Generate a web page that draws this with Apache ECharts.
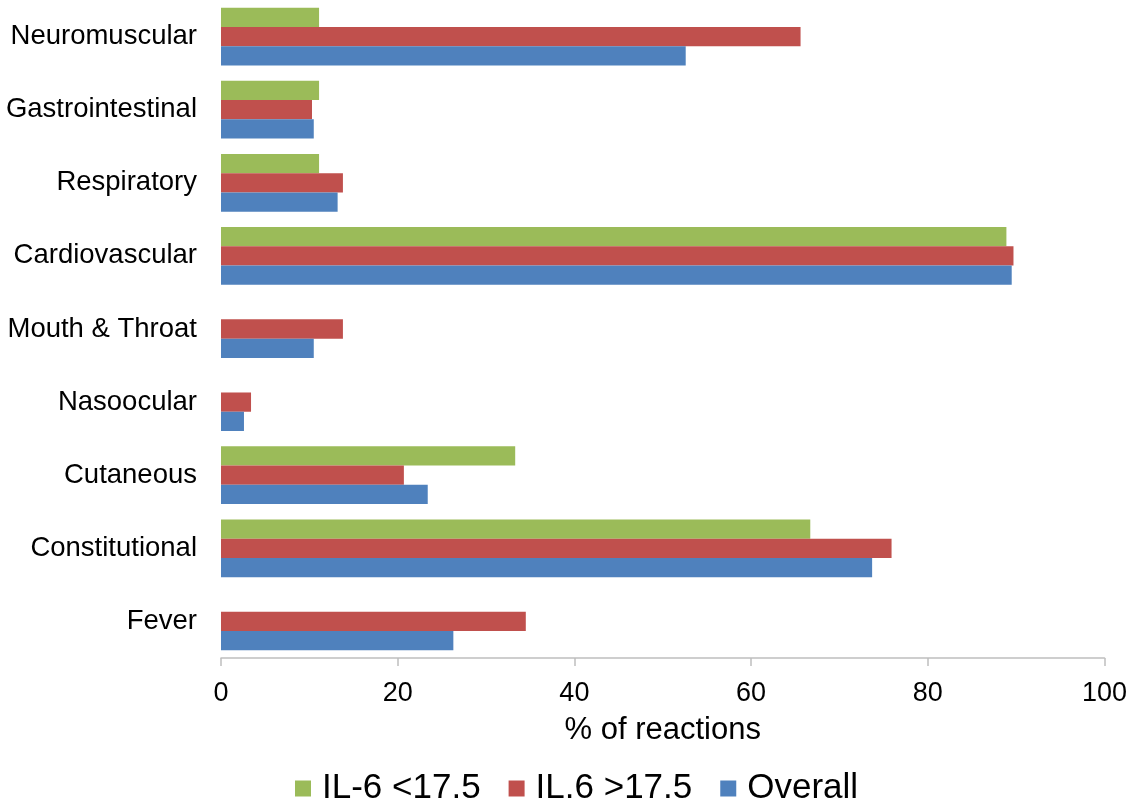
<!DOCTYPE html>
<html>
<head>
<meta charset="utf-8">
<script src="https://cdn.jsdelivr.net/npm/echarts@6/dist/echarts.min.js"></script>
<style>
html,body{margin:0;padding:0;background:#fff;}
#chart{width:1130px;height:810px;}
</style>
</head>
<body>
<div id="chart"></div>
<script>
// categories listed top to bottom
var categories = ["Neuromuscular","Gastrointestinal","Respiratory","Cardiovascular","Mouth & Throat","Nasoocular","Cutaneous","Constitutional","Fever"];
var seriesNames = ["IL-6 <17.5","IL.6 >17.5","Overall"];
var il6Low  = [11.1, 11.1, 11.1, 88.9, null, null, 33.3, 66.7, null];
var il6High = [65.6, 10.3, 13.8, 89.7, 13.8, 3.4, 20.7, 75.9, 34.5];
var overall = [52.6, 10.5, 13.2, 89.5, 10.5, 2.6, 23.4, 73.7, 26.3];
var xTicks = [0, 20, 40, 60, 80, 100];

var colors = ["#9BBB59","#C0504D","#4F81BD"];
var font = "Liberation Sans, Arial, sans-serif";

var chart = echarts.init(document.getElementById('chart'));
chart.setOption({
  animation: false,
  color: colors,
  grid: {left: 221, right: 25, top: -5, bottom: 152, containLabel: false},
  legend: {
    data: seriesNames,
    bottom: -1,
    left: 290,
    itemWidth: 16,
    itemHeight: 16,
    itemGap: 28,
    icon: 'rect',
    textStyle: {fontFamily: font, fontSize: 35, color: '#000', padding: [0,0,0,6]}
  },
  xAxis: {
    type: 'value',
    min: xTicks[0],
    max: xTicks[xTicks.length-1],
    interval: 20,
    name: '% of reactions',
    nameLocation: 'middle',
    nameGap: 57,
    nameTextStyle: {fontFamily: font, fontSize: 31, color: '#000'},
    axisLine: {show: true, lineStyle: {color: '#BFBFBF', width: 1.5}},
    axisTick: {show: true, inside: false, length: 8, lineStyle: {color: '#BFBFBF', width: 1.5}},
    axisLabel: {fontFamily: font, fontSize: 27, color: '#000', margin: 22},
    splitLine: {show: false}
  },
  yAxis: {
    type: 'category',
    data: categories,
    inverse: true,
    axisLine: {show: false},
    axisTick: {show: false},
    axisLabel: {fontFamily: font, fontSize: 27.5, color: '#000', margin: 24}
  },
  series: [
    {name: seriesNames[0], type: 'bar', data: il6Low, barGap: '0%', barCategoryGap: '21%'},
    {name: seriesNames[1], type: 'bar', data: il6High, barGap: '0%', barCategoryGap: '21%'},
    {name: seriesNames[2], type: 'bar', data: overall, barGap: '0%', barCategoryGap: '21%'}
  ]
});
</script>
</body>
</html>
